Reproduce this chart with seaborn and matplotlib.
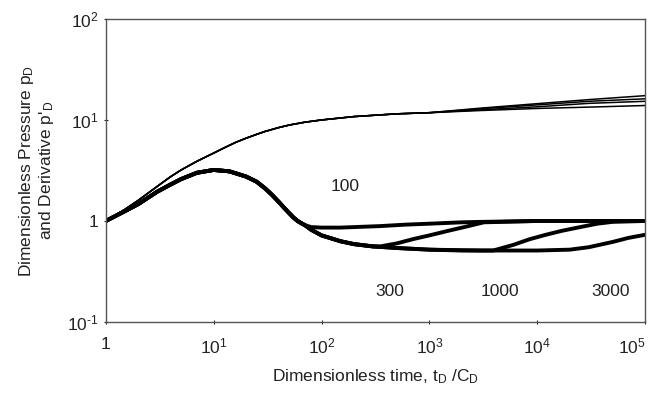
import numpy as np
import pandas as pd
import seaborn as sns
import matplotlib.pyplot as plt
from matplotlib.ticker import FixedLocator, NullLocator
import matplotlib.transforms as mtransforms

# -------------------------------------------------------------------
# Values (tD/CD, pD and p'D)
# -------------------------------------------------------------------
# shared early part of the derivative curves
t_early = [1, 1.5, 2, 3, 4, 5, 7, 10, 14, 20, 25, 30, 35, 40, 45, 50, 55, 60, 65, 70]
d_early = [1.0, 1.25, 1.47, 1.95, 2.3, 2.6, 3.0, 3.2, 3.1, 2.75, 2.45, 2.1, 1.8, 1.55,
           1.35, 1.2, 1.08, 1.0, 0.95, 0.91]

# late derivative branches, labelled by the annotation values
t_d100 = [80, 100, 150, 200, 350, 600, 1000, 2000, 3000, 10000, 100000]
d_d100 = [0.87, 0.86, 0.86, 0.87, 0.89, 0.92, 0.94, 0.97, 0.98, 1.0, 1.0]

t_d300 = [80, 100, 150, 200, 300, 350, 500, 700, 1000, 1500, 2200, 3200, 10000, 100000]
d_d300 = [0.82, 0.72, 0.63, 0.59, 0.56, 0.56, 0.6, 0.66, 0.72, 0.8, 0.88, 0.97, 1.0, 1.0]

t_d1000 = [80, 100, 150, 200, 300, 500, 1000, 2000, 3900, 6000, 8500, 12000, 17000,
           25000, 36000, 50000, 100000]
d_d1000 = [0.82, 0.72, 0.63, 0.59, 0.56, 0.54, 0.52, 0.51, 0.51, 0.58, 0.66, 0.73, 0.8,
           0.87, 0.94, 0.98, 1.0]

t_d3000 = [80, 100, 150, 200, 300, 500, 1000, 3000, 10000, 20000, 30000, 50000, 70000, 100000]
d_d3000 = [0.82, 0.72, 0.63, 0.59, 0.56, 0.54, 0.52, 0.51, 0.51, 0.52, 0.55, 0.62, 0.68, 0.73]

# shared early part of the pressure curves
t_p_early = [1, 1.5, 2, 3, 4, 5, 7, 10, 13, 16, 20, 25, 30, 40, 50, 70, 100, 200, 500, 1000]
p_early = [1.0, 1.3, 1.6, 2.2, 2.75, 3.2, 3.9, 4.7, 5.4, 6.0, 6.6, 7.2, 7.7, 8.4, 8.9,
           9.5, 10.0, 10.8, 11.5, 11.8]

t_p_late = [3000, 10000, 30000, 100000]
p_p100 = [13.1, 14.5, 15.9, 17.4]
p_p300 = [12.9, 14.1, 15.3, 16.2]
p_p1000 = [12.6, 13.5, 14.6, 15.3]
p_p3000 = [12.4, 13.0, 13.4, 13.9]

labels = ["100", "300", "1000", "3000"]
label_t = [165, 430, 4500, 48000]
label_v = [2.2, 0.2, 0.2, 0.2]

# -------------------------------------------------------------------
# Long tables for seaborn
# -------------------------------------------------------------------
deriv_late = {"100": (t_d100, d_d100), "300": (t_d300, d_d300),
              "1000": (t_d1000, d_d1000), "3000": (t_d3000, d_d3000)}
press_late = {"100": p_p100, "300": p_p300, "1000": p_p1000, "3000": p_p3000}

rows = []
for lab in labels:
    tt, dd = deriv_late[lab]
    for t, v in zip(t_early + tt, d_early + dd):
        rows.append({"t": t, "v": v, "curve": "d" + lab})
    for t, v in zip(t_p_early + t_p_late, p_early + press_late[lab]):
        rows.append({"t": t, "v": v, "curve": "p" + lab})
df = pd.DataFrame(rows)

# -------------------------------------------------------------------
# Plot
# -------------------------------------------------------------------
sns.set_theme(style="white")
plt.rcParams["font.family"] = ["Liberation Sans", "DejaVu Sans"]
plt.rcParams["mathtext.fontset"] = "custom"
plt.rcParams["mathtext.rm"] = "Liberation Sans"
plt.rcParams["mathtext.it"] = "Liberation Sans"
plt.rcParams["axes.unicode_minus"] = False

fig = plt.figure(figsize=(6.49, 4.03), dpi=100)
ax = fig.add_axes([0.163, 0.201, 0.831, 0.752])

d_df = df[df["curve"].str.startswith("d")]
p_df = df[df["curve"].str.startswith("p")]
sns.lineplot(data=d_df, x="t", y="v", units="curve", estimator=None, sort=False,
             color="black", lw=2.8, ax=ax)
sns.lineplot(data=p_df, x="t", y="v", units="curve", estimator=None, sort=False,
             color="black", lw=1.1, ax=ax)

ax.set_xscale("log")
ax.set_yscale("log")
ax.set_xlim(1, 1e5)
ax.set_ylim(0.1, 100)

ax.xaxis.set_major_locator(FixedLocator([1, 1e1, 1e2, 1e3, 1e4, 1e5]))
ax.xaxis.set_minor_locator(NullLocator())
ax.set_xticklabels(["1", r"10$^{1}$", r"10$^{2}$", r"10$^{3}$", r"10$^{4}$", r"10$^{5}$"])
ax.yaxis.set_major_locator(FixedLocator([0.1, 1, 10, 100]))
ax.yaxis.set_minor_locator(NullLocator())
ax.set_yticklabels([r"10$^{\text{-}1}$", "1", r"10$^{1}$", r"10$^{2}$"])
ax.tick_params(axis="both", labelsize=12.5, colors="#222222", length=3, width=0.8,
               direction="inout", left=True, bottom=True)
ax.tick_params(axis="x", pad=9)

# keep the last x label inside the figure
last = ax.get_xticklabels()[-1]
last.set_horizontalalignment("right")
last.set_transform(last.get_transform() + mtransforms.ScaledTranslation(0.01, 0, fig.dpi_scale_trans))

for s in ax.spines.values():
    s.set_color("#555555")
    s.set_linewidth(1.0)

ax.set_xlabel(r"Dimensionless time, t$_{\mathrm{D}}$ /C$_{\mathrm{D}}$", fontsize=12.5,
              color="#222222", labelpad=8)
ax.set_ylabel("Dimensionless Pressure p$_{\\mathrm{D}}$\nand Derivative p'$_{\\mathrm{D}}$",
              fontsize=12.5, color="#222222", labelpad=8, linespacing=1.1)

for lab, t, v in zip(labels, label_t, label_v):
    ax.text(t, v, lab, fontsize=12.5, ha="center", va="center", color="#222222")

fig.savefig("out.png", dpi=100)
